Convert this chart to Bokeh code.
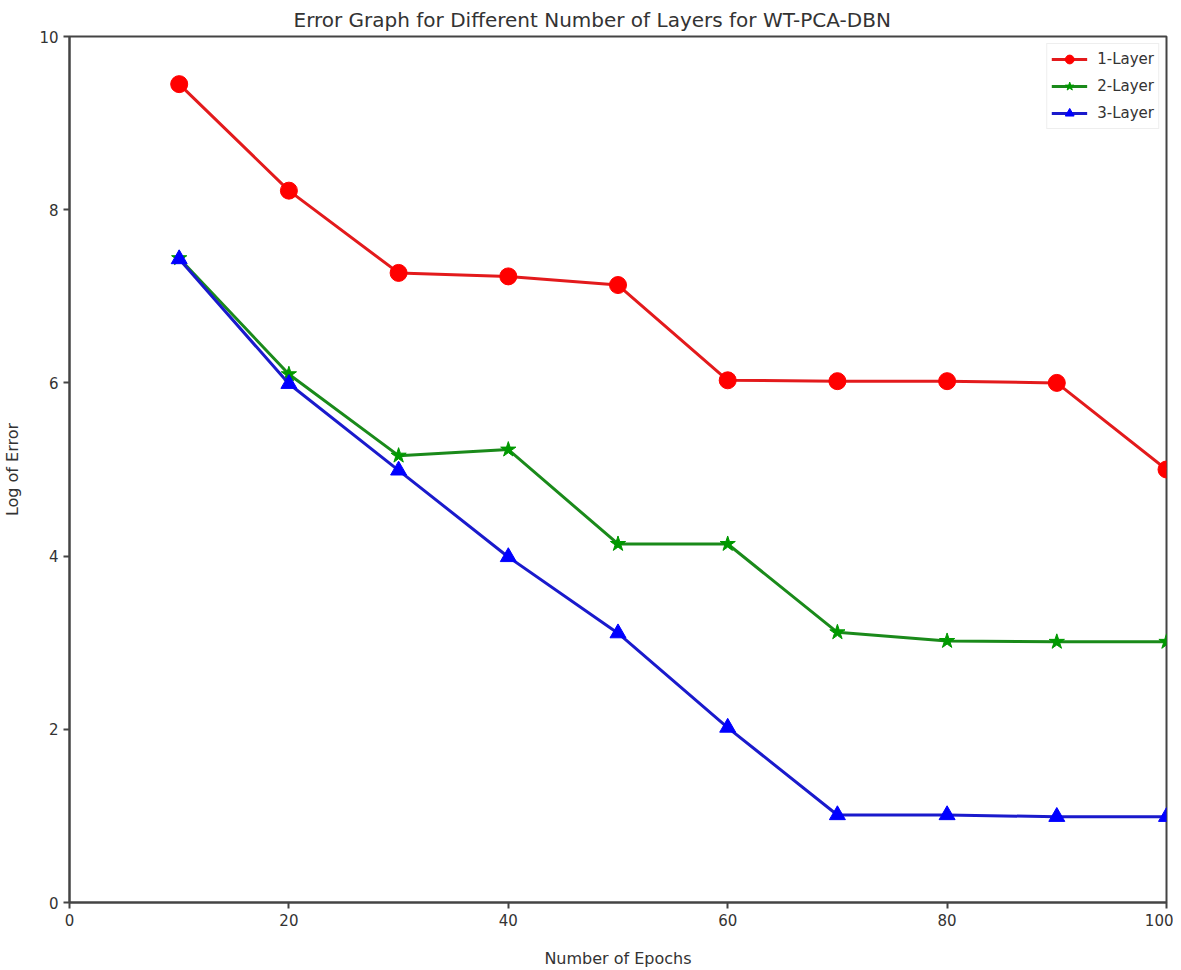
from bokeh.plotting import figure
from bokeh.embed import file_html
from bokeh.resources import INLINE
from bokeh.models import FixedTicker, Range1d

epochs = [10, 20, 30, 40, 50, 60, 70, 80, 90, 100]
layer1 = [9.45, 8.22, 7.27, 7.23, 7.13, 6.03, 6.02, 6.02, 6.00, 5.00]
layer2 = [7.44, 6.10, 5.16, 5.23, 4.14, 4.14, 3.12, 3.02, 3.01, 3.01]
layer3 = [7.43, 5.99, 4.99, 3.99, 3.11, 2.02, 1.01, 1.01, 0.99, 0.99]
x_ticks = [0, 20, 40, 60, 80, 100]
y_ticks = [0, 2, 4, 6, 8, 10]

FONT = "DejaVu Sans"
TXT = "#333333"

p = figure(width=1173, height=970, output_backend="svg", toolbar_location=None,
           x_range=Range1d(0, 100), y_range=Range1d(0, 10),
           title="Error Graph for Different Number of Layers for WT-PCA-DBN",
           min_border_left=68, min_border_right=7, min_border_top=35, min_border_bottom=67)

p.title.align = "left"
p.title.offset = 224
p.title.text_font = FONT
p.title.text_font_size = "20px"
p.title.text_font_style = "normal"
p.title.text_color = TXT

p.xgrid.visible = False
p.ygrid.visible = False
p.outline_line_color = "#444444"
p.outline_line_width = 2
p.background_fill_color = "white"

for ax in (p.xaxis, p.yaxis):
    ax.axis_line_color = "#444444"
    ax.axis_line_width = 2
    ax.major_tick_line_color = "#444444"
    ax.major_tick_line_width = 2
    ax.major_tick_out = 6
    ax.major_tick_in = 0
    ax.minor_tick_line_color = None
    ax.major_label_text_font = FONT
    ax.major_label_text_font_size = "15px"
    ax.major_label_text_color = TXT
    ax.axis_label_text_font = FONT
    ax.axis_label_text_font_size = "16px"
    ax.axis_label_text_font_style = "normal"
    ax.axis_label_text_color = TXT

p.xaxis.ticker = FixedTicker(ticks=x_ticks)
p.yaxis.ticker = FixedTicker(ticks=y_ticks)
p.xaxis.axis_label = "Number of Epochs"
p.yaxis.axis_label = "Log of Error"
p.xaxis.axis_label_standoff = 20
p.yaxis.axis_label_standoff = 14

p.line(epochs, layer1, line_color="#e31a1c", line_width=3, legend_label="1-Layer")
p.scatter(epochs, layer1, marker="circle", size=17, fill_color="#ff0000", line_color="#ff0000", legend_label="1-Layer")

p.line(epochs, layer2, line_color="#1a8a1a", line_width=3, legend_label="2-Layer")
p.scatter(epochs, layer2, marker="star", size=16, fill_color="#009900", line_color="#009900", legend_label="2-Layer")

p.line(epochs, layer3, line_color="#1a1acc", line_width=3, legend_label="3-Layer")
p.scatter(epochs, layer3, marker="triangle", size=16, fill_color="#0000ff", line_color="#0000ff", legend_label="3-Layer")

p.legend.location = "top_right"
p.legend.border_line_color = "#dddddd"
p.legend.border_line_width = 1
p.legend.label_text_font = FONT
p.legend.label_text_font_size = "15px"
p.legend.label_text_color = TXT
p.legend.glyph_width = 36
p.legend.glyph_height = 22
p.legend.spacing = 5
p.legend.padding = 4
p.legend.margin = 7
p.legend.label_standoff = 10

open("out.html", "w").write(file_html(p, INLINE))
